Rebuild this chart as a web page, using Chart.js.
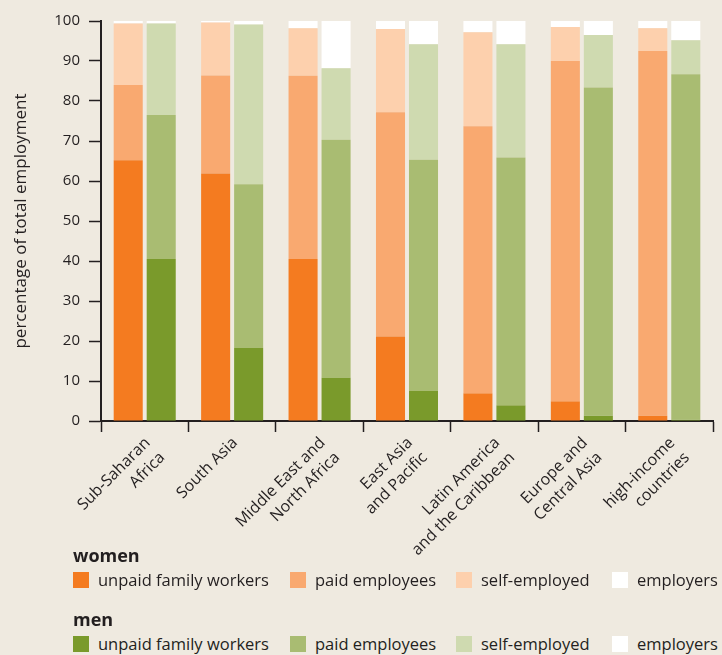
<!DOCTYPE html>
<html>
<head>
<meta charset="utf-8">
<script src="https://cdn.jsdelivr.net/npm/chart.js@4.4.1/dist/chart.umd.min.js"></script>
<style>
  html, body { margin: 0; padding: 0; background: #efeae0; }
  #wrap { position: relative; width: 722px; height: 655px; background: #efeae0; font-family: "Open Sans", sans-serif; color: #231f20; overflow: hidden; }
  #chartBox { position: absolute; left: 0; top: 0; width: 722px; height: 600px; }
  .legTitle { position: absolute; font-weight: bold; font-size: 18px; line-height: 20px; }
  .legItem { position: absolute; font-size: 16.5px; line-height: 18px; white-space: nowrap; }
  .legItem span.sw { position: absolute; left: 0; top: 1px; width: 16px; height: 16px; }
  .legItem span.tx { position: absolute; left: 25px; top: 0; }
</style>
</head>
<body>
<div id="wrap">
  <div id="chartBox"><canvas id="chart" width="722" height="600"></canvas></div>
  <div id="legend"></div>
</div>
<script>
const regions = [
  ['Sub-Saharan', 'Africa'],
  'South Asia',
  ['Middle East and', 'North Africa'],
  ['East Asia', 'and Pacific'],
  ['Latin America', 'and the Caribbean'],
  ['Europe and', 'Central Asia'],
  ['high-income', 'countries']
];

// women, percentage of total employment
const womenUnpaid = [65.2, 61.9, 40.5, 21.1, 6.9, 4.9, 1.3];
const womenPaid = [18.8, 24.5, 45.8, 56.1, 66.8, 85.1, 91.2];
const womenSelf = [15.4, 13.2, 11.9, 20.8, 23.5, 8.5, 5.7];
const womenEmployers = [0.6, 0.4, 1.8, 2.0, 2.8, 1.5, 1.8];

// men
const menUnpaid = [40.5, 18.3, 10.8, 7.5, 3.9, 1.3, 0.3];
const menPaid = [36.0, 40.9, 59.5, 57.8, 62.0, 82.1, 86.4];
const menSelf = [22.9, 39.9, 17.9, 28.9, 28.3, 13.1, 8.5];
const menEmployers = [0.6, 0.9, 11.8, 5.8, 5.8, 3.5, 4.8];

const yTicks = [0, 10, 20, 30, 40, 50, 60, 70, 80, 90, 100];
const legendLabels = ['unpaid family workers', 'paid employees', 'self-employed', 'employers'];

const womenColors = ['#f47b20', '#f9a970', '#fdd0ad', '#ffffff'];
const menColors = ['#7a9a2b', '#a9bc72', '#cfdab0', '#ffffff'];
const ink = '#231f20';

function makeSet(label, data, color, stack) {
    return {
        label: label,
        data: data,
        backgroundColor: color,
        borderWidth: 0,
        stack: stack,
        categoryPercentage: 0.755,
        barPercentage: 0.88
    };
}

const datasets = [
    makeSet('women unpaid family workers', womenUnpaid, womenColors[0], 'women'),
    makeSet('women paid employees', womenPaid, womenColors[1], 'women'),
    makeSet('women self-employed', womenSelf, womenColors[2], 'women'),
    makeSet('women employers', womenEmployers, womenColors[3], 'women'),
    makeSet('men unpaid family workers', menUnpaid, menColors[0], 'men'),
    makeSet('men paid employees', menPaid, menColors[1], 'men'),
    makeSet('men self-employed', menSelf, menColors[2], 'men'),
    makeSet('men employers', menEmployers, menColors[3], 'men')
];

Chart.defaults.font.family = '"Open Sans", sans-serif';
Chart.defaults.color = ink;

const ctx = document.getElementById('chart').getContext('2d');
new Chart(ctx, {
    type: 'bar',
    data: { labels: regions, datasets: datasets },
    options: {
        responsive: false,
        animation: false,
        layout: { padding: { top: 21, right: 9, left: 0, bottom: 0 } },
        plugins: { legend: { display: false }, tooltip: { enabled: false } },
        scales: {
            x: {
                stacked: true,
                grid: {
                    drawOnChartArea: false,
                    drawTicks: true,
                    tickLength: 11,
                    tickWidth: 1.5,
                    tickColor: ink,
                    offset: true
                },
                border: { color: ink, width: 2 },
                ticks: {
                    maxRotation: 45,
                    minRotation: 45,
                    padding: 1,
                    labelOffset: 3,
                    font: { size: 16, lineHeight: 1.3 },
                    color: ink,
                    autoSkip: false
                },
                afterFit: function (scale) { scale.height = 179; }
            },
            y: {
                stacked: true,
                min: 0,
                max: 100,
                afterBuildTicks: function (scale) {
                    scale.ticks = yTicks.map(v => ({ value: v }));
                },
                grid: {
                    drawOnChartArea: false,
                    drawTicks: true,
                    tickLength: 12,
                    tickWidth: 1.5,
                    tickColor: ink
                },
                border: { color: ink, width: 2 },
                ticks: { padding: 9, font: { size: 15 }, color: ink },
                title: {
                    display: true,
                    text: 'percentage of total employment',
                    font: { size: 17 },
                    color: ink,
                    padding: { top: 11, bottom: 0 }
                },
                afterFit: function (scale) { scale.width = 101; }
            }
        }
    }
});

// legend, two rows of swatches
const legend = document.getElementById('legend');
const itemX = [73, 290, 456, 612];
function addRow(title, titleY, rowY, colors) {
    const t = document.createElement('div');
    t.className = 'legTitle';
    t.style.left = '73px';
    t.style.top = titleY + 'px';
    t.textContent = title;
    legend.appendChild(t);
    for (let i = 0; i < legendLabels.length; i++) {
        const item = document.createElement('div');
        item.className = 'legItem';
        item.style.left = itemX[i] + 'px';
        item.style.top = rowY + 'px';
        item.innerHTML = '<span class="sw" style="background:' + colors[i] + '"></span><span class="tx">' + legendLabels[i] + '</span>';
        legend.appendChild(item);
    }
}
addRow('women', 545, 571, womenColors);
addRow('men', 609, 635, menColors);
</script>
</body>
</html>
